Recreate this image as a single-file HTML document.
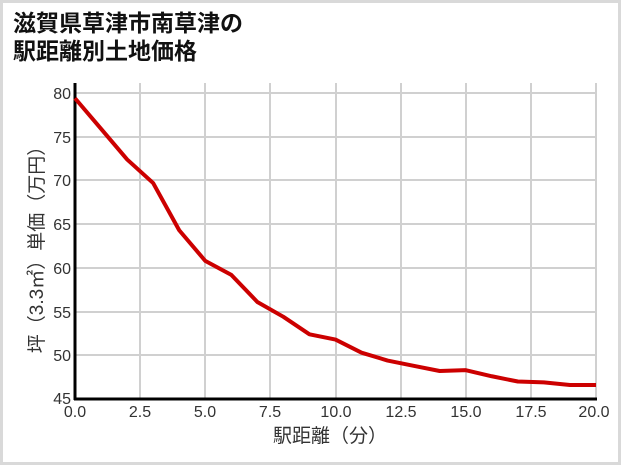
<!DOCTYPE html>
<html><head><meta charset="utf-8"><style>
html,body{margin:0;padding:0;background:#fff}
body{width:621px;height:465px;overflow:hidden;position:relative;font-family:"Liberation Sans","Noto Sans CJK JP",sans-serif}
.frame{position:absolute;left:0;top:0;width:615px;height:459px;border:3px solid #d9d9d9}
.t{position:absolute;left:13px;font-weight:bold;font-size:23px;color:#111;line-height:28px}
</style></head><body>
<div class="frame"></div>
<div class="t" style="top:9px">滋賀県草津市南草津の<br>駅距離別土地価格</div>
<svg width="621" height="465" style="position:absolute;left:0;top:0" font-family="Liberation Sans, Noto Sans CJK JP, sans-serif">
<g stroke="#d0d0d0" stroke-width="2">
<line x1="140" y1="83" x2="140" y2="399"/><line x1="205" y1="83" x2="205" y2="399"/><line x1="270" y1="83" x2="270" y2="399"/><line x1="336" y1="83" x2="336" y2="399"/><line x1="401" y1="83" x2="401" y2="399"/><line x1="466" y1="83" x2="466" y2="399"/><line x1="531" y1="83" x2="531" y2="399"/><line x1="596" y1="83" x2="596" y2="399"/>
<line x1="75" y1="93" x2="596" y2="93"/><line x1="75" y1="137" x2="596" y2="137"/><line x1="75" y1="180" x2="596" y2="180"/><line x1="75" y1="224" x2="596" y2="224"/><line x1="75" y1="268" x2="596" y2="268"/><line x1="75" y1="312" x2="596" y2="312"/><line x1="75" y1="355" x2="596" y2="355"/>
</g>
<g stroke="#000" stroke-width="3"><line x1="75" y1="83" x2="75" y2="400"/><line x1="74" y1="399" x2="597" y2="399"/></g>
<g transform="translate(75,399) scale(26.05,-8.743) translate(0,-45)">
<polyline fill="none" stroke="#cc0000" stroke-width="4" vector-effect="non-scaling-stroke" stroke-linejoin="round" points="0,79.4 1,75.9 2,72.4 3,69.7 4,64.3 5,60.8 6,59.2 7,56.1 8,54.4 9,52.4 10,51.8 11,50.3 12,49.4 13,48.8 14,48.2 15,48.3 16,47.6 17,47.0 18,46.9 19,46.6 20,46.6"/>
</g>
<g font-size="16" fill="#333" text-anchor="end">
<text x="71" y="99">80</text><text x="71" y="143">75</text><text x="71" y="186">70</text><text x="71" y="230">65</text><text x="71" y="274">60</text><text x="71" y="318">55</text><text x="71" y="361">50</text><text x="71" y="404">45</text>
</g>
<g font-size="16" fill="#333" text-anchor="middle">
<text x="75" y="417">0.0</text><text x="140" y="417">2.5</text><text x="205" y="417">5.0</text><text x="270" y="417">7.5</text><text x="336" y="417">10.0</text><text x="401" y="417">12.5</text><text x="466" y="417">15.0</text><text x="531" y="417">17.5</text><text x="594" y="417">20.0</text>
<text x="330" y="442" font-size="19">駅距離（分）</text>
<text transform="translate(43,245) rotate(-90)" font-size="19">坪（3.3㎡）単価（万円）</text>
</g>
</svg>
</body></html>
